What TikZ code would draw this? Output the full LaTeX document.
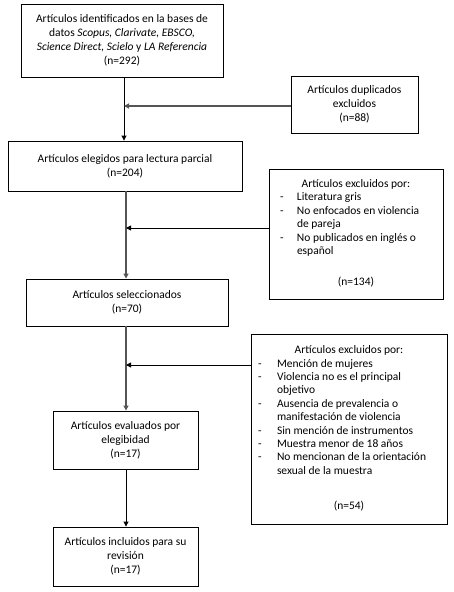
\documentclass[tikz,border=0pt]{standalone}
\usepackage{fontspec}
\setmainfont{Carlito}
\usetikzlibrary{arrows.meta}
\definecolor{lgray}{RGB}{85,85,85}
\begin{document}
\begin{tikzpicture}[x=1pt,y=-1pt,
  box/.style={draw=black,line width=0.9pt,inner sep=0pt,align=center,
    font=\fontsize{11.5pt}{13.8pt}\selectfont},
  thinline/.style={draw=black,line width=0.9pt,-{Triangle[length=5pt,width=5pt]}},
  thickline/.style={draw=lgray,line width=2pt,-{Triangle[length=5pt,width=5pt]}},
  ]
\useasboundingbox (0,0) rectangle (454,592);
\node[box,minimum width=202pt,minimum height=73pt] (b1) at (122,40.5)
  {Artículos identificados en la bases de\\
   datos \textit{Scopus, Clarivate, EBSCO,}\\
   \textit{Science Direct, Scielo} y \textit{LA Referencia}\\
   (n=292)};
\node[box,minimum width=127pt,minimum height=57pt] (dup) at (354.5,104.5)
  {Artículos duplicados\\ excluidos\\ (n=88)};
\node[box,minimum width=234pt,minimum height=50pt] (b2) at (125,166)
  {Artículos elegidos para lectura parcial\\ (n=204)};
\node[box,minimum width=174pt,minimum height=130pt] (ex1) at (356,234)
  {\renewcommand{\arraystretch}{0.97}%
   \begin{tabular}{@{\hspace{11pt}}p{17pt}@{}p{146pt}@{}}
   \multicolumn{2}{@{}c@{}}{Artículos excluidos por:}\\
   - & Literatura gris\\
   - & No enfocados en violencia\\
     & de pareja\\
   - & No publicados en inglés o\\
     & español\\[18pt]
   \multicolumn{2}{@{}c@{}}{(n=134)}
   \end{tabular}};
\node[box,minimum width=202pt,minimum height=47pt] (b3) at (127,302.5)
  {Artículos seleccionados\\ (n=70)};
\node[box,minimum width=196pt,minimum height=190pt] (ex2) at (349,429)
  {\renewcommand{\arraystretch}{0.97}%
   \begin{tabular}{@{\hspace{7pt}}p{19pt}@{}p{170pt}@{}}
   \multicolumn{2}{@{}c@{}}{Artículos excluidos por:}\\
   - & Mención de mujeres\\
   - & Violencia no es el principal\\
     & objetivo\\
   - & Ausencia de prevalencia o\\
     & manifestación de violencia\\
   - & Sin mención de instrumentos\\
   - & Muestra menor de 18 años\\
   - & No mencionan de la orientación\\
     & sexual de la muestra\\[22pt]
   \multicolumn{2}{@{}c@{}}{(n=54)}
   \end{tabular}};
\node[box,minimum width=145pt,minimum height=58pt] (b4) at (125.5,440)
  {Artículos evaluados por\\ elegibidad\\ (n=17)};
\node[box,minimum width=145pt,minimum height=59pt] (b5) at (125.5,556.5)
  {Artículos incluidos para su\\ revisión\\ (n=17)};
\coordinate (m1) at (124,106);
\coordinate (m2) at (126,228);
\coordinate (m3) at (126,365);
\draw[thinline] (b1.south -| m1) -- (b2.north -| m1);
\draw[thickline] (dup.west |- m1) -- (m1);
\draw[thickline] (b2.south -| m2) -- (b3.north -| m2);
\draw[thinline] (ex1.west |- m2) -- (m2);
\draw[thickline] (b3.south -| m3) -- (b4.north -| m3);
\draw[thinline] (ex2.west |- m3) -- (m3);
\draw[thinline] (b4.south -| m3) -- (b5.north -| m3);
\end{tikzpicture}
\end{document}
